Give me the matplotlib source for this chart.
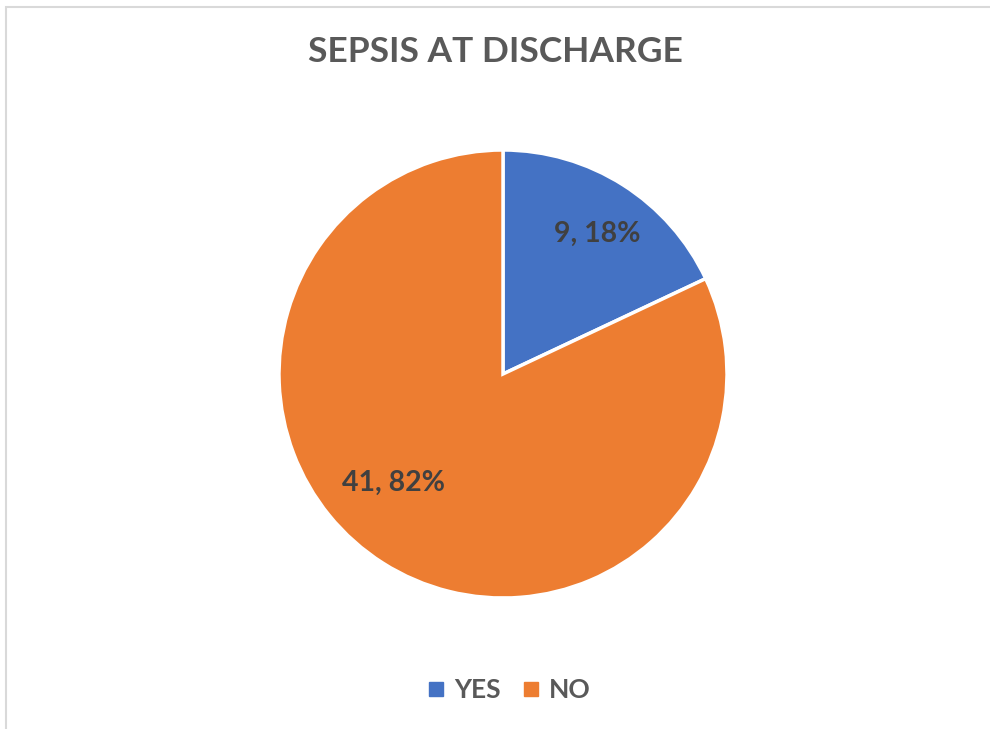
import matplotlib
matplotlib.use("Agg")
import matplotlib.pyplot as plt
from matplotlib.patches import Rectangle
from matplotlib.lines import Line2D
import numpy as np

title = "SEPSIS AT DISCHARGE"
categories = ["YES", "NO"]
counts = [9, 41]
colors = ["#4472C4", "#ED7D31"]

W, H, DPI = 990, 729, 100
fig = plt.figure(figsize=(W / DPI, H / DPI), dpi=DPI)
fig.patch.set_facecolor("white")

FONT = "Lato"

# light chart-area frame
fig.add_artist(Rectangle((6 / W, -0.1), 1.2, 1 - 7 / H + 0.1, transform=fig.transFigure,
                         fill=False, edgecolor="#D9D9D9", linewidth=1.5))

# pie axes: centre (503, 374) px, radius 224 px
cx, cy, r = 503, 374, 224
ax = fig.add_axes([(cx - r) / W, (H - cy - r) / H, 2 * r / W, 2 * r / H])
ax.axis("off")

wedges, _ = ax.pie(counts, colors=colors, startangle=90, counterclock=False,
                   radius=1.0, wedgeprops=dict(edgecolor="white", linewidth=2.5))
ax.set_xlim(-1, 1)
ax.set_ylim(-1, 1)
ax.set_aspect("equal")

total = sum(counts)
# label placement (angle in degrees, radial fraction) per slice
label_pos = [(56.0, 0.755), (-135.3, 0.69)]
for n, (ang, rad) in zip(counts, label_pos):
    pct = round(100 * n / total)
    t = np.deg2rad(ang)
    ax.text(rad * np.cos(t), rad * np.sin(t), f"{n}, {pct}%", ha="center", va="center",
            fontsize=20.5, fontweight="bold", color="#404040", family=FONT)

fig.text(0.5, 1 - 52 / H, title, ha="center", va="center", fontsize=25.5,
         fontweight="bold", color="#595959", family=FONT)

handles = [Line2D([], [], marker="s", linestyle="none", markersize=9.5,
                  markerfacecolor=c, markeredgecolor=c) for c in colors]
fig.legend(handles, categories, loc="center", bbox_to_anchor=(508 / W, 1 - 690 / H),
           ncol=2, frameon=False, handletextpad=0.27, columnspacing=0.76,
           handlelength=0.8, prop=dict(family=FONT, size=19, weight="bold"),
           labelcolor="#595959")

fig.savefig("out.png", dpi=DPI, facecolor="white")
